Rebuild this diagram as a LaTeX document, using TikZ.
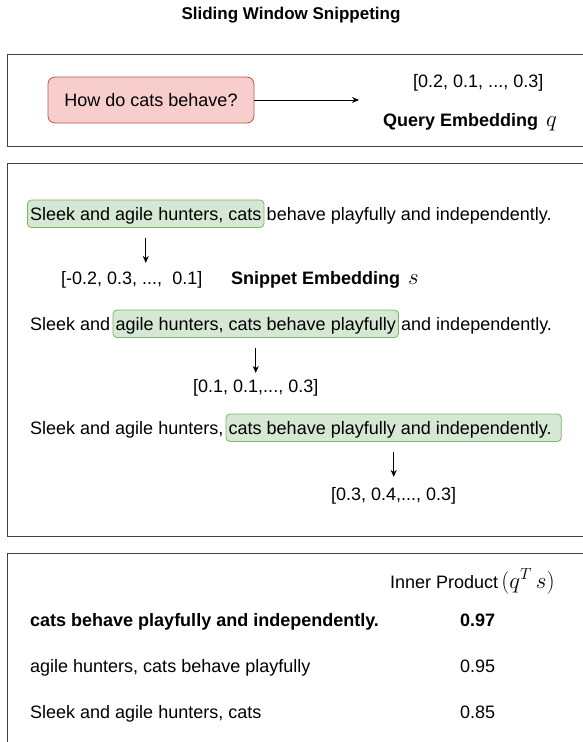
\RequirePackage{fix-cm}
\documentclass[tikz,border=0pt]{standalone}
\usepackage{fontspec}
\setmainfont{Liberation Sans}
\usetikzlibrary{arrows.meta,backgrounds,fit}
\definecolor{pinkfill}{HTML}{F8CECC}
\definecolor{pinkdraw}{HTML}{B85450}
\definecolor{greenfill}{HTML}{D5E8D4}
\definecolor{greendraw}{HTML}{82B366}
\newcommand{\bigmath}[1]{{\fontsize{23}{26}\selectfont$#1$}}
\begin{document}
\begin{tikzpicture}[x=1pt,y=-1pt,
  txt/.style={inner sep=0pt, font=\fontsize{18}{21}\selectfont, text height=16.3pt, text depth=3.8pt, anchor=base west},
  txtb/.style={txt, font=\bfseries\fontsize{18}{21}\selectfont},
  frame/.style={draw=black!75, line width=1pt},
  hl/.style={draw=greendraw, fill=greenfill, rounded corners=4pt, line width=0.8pt, inner xsep=2.5pt, inner ysep=3.5pt},
  pinkbox/.style={draw=pinkdraw, fill=pinkfill, rounded corners=7pt, line width=0.8pt, minimum width=206pt, minimum height=46pt, inner sep=0pt, font=\fontsize{18}{21}\selectfont},
  arr/.style={-{Stealth[length=7pt,width=6pt]}, line width=0.8pt, black}]
\useasboundingbox (0,0) rectangle (582,742);

% title
\node[font=\bfseries\fontsize{17}{20}\selectfont, inner sep=0pt] (title) at (291,15) {Sliding Window Snippeting};

% frames
\draw[frame] (7,54) rectangle (600,146);
\draw[frame] (7,163) rectangle (600,536);
\draw[frame] (7,553) rectangle (600,760);

% query panel
\node[pinkbox] (query) at (151,100) {How do cats behave?};
\coordinate (qend) at (359,100);
\draw[arr] (query.east) -- (qend);
\node[txt] (qvec) at (413,87) {[0.2, 0.1, ..., 0.3]};
\node[txtb] (qlab) at (383,126) {Query Embedding\hspace{8pt}\bigmath{q}};

% line 1
\node[txt] (h1) at (30,220) {Sleek and agile hunters, cats};
\node[txt] (r1) at ([xshift=5pt]h1.base east) {behave playfully and independently.};
\begin{scope}[on background layer]
\node[hl, fit=(h1)] (g1) {};
\end{scope}
\draw[arr] ([yshift=-10pt]g1.south) -- ++(0,25) coordinate (e1);
\node[txt] (s1vec) at (61,284) {[-0.2, 0.3, ...,\ \ 0.1]};
\node[txtb] (slab) at (231,284) {Snippet Embedding\hspace{8pt}\bigmath{s}};

% line 2
\node[txt] (l2) at (30,330) {Sleek and};
\node[txt] (h2) at ([xshift=5pt]l2.base east) {agile hunters, cats behave playfully};
\node[txt] (r2) at ([xshift=5pt]h2.base east) {and independently.};
\begin{scope}[on background layer]
\node[hl, fit=(h2)] (g2) {};
\end{scope}
\draw[arr] ([yshift=-10pt]g2.south) -- ++(0,25) coordinate (e2);
\coordinate (b2) at (e2 |- 0,392);
\node[txt, anchor=base] (s2vec) at (b2) {[0.1, 0.1,..., 0.3]};

% line 3
\node[txt] (l3) at (30,434) {Sleek and agile hunters,};
\node[txt] (h3) at ([xshift=5pt]l3.base east) {cats behave playfully and independently.};
\coordinate (h3r) at ([xshift=7pt]h3.east);
\begin{scope}[on background layer]
\node[hl, fit=(h3)(h3r)] (g3) {};
\end{scope}
\draw[arr] ([yshift=-10pt]g3.south) -- ++(0,25) coordinate (e3);
\coordinate (b3) at (e3 |- 0,500);
\node[txt, anchor=base] (s3vec) at (b3) {[0.3, 0.4,..., 0.3]};

% results panel
\node[txt] (iplab) at (390,588) {Inner Product\hspace{3pt}\bigmath{(q^T\,s)}};
\node[txtb] (row1) at (30,626) {cats behave playfully and independently.};
\node[txtb] (val1) at (460,626) {0.97};
\node[txt] (row2) at (30,672) {agile hunters, cats behave playfully};
\node[txt] (val2) at (460,672) {0.95};
\node[txt] (row3) at (30,718) {Sleek and agile hunters, cats};
\node[txt] (val3) at (460,718) {0.85};
\end{tikzpicture}
\end{document}
